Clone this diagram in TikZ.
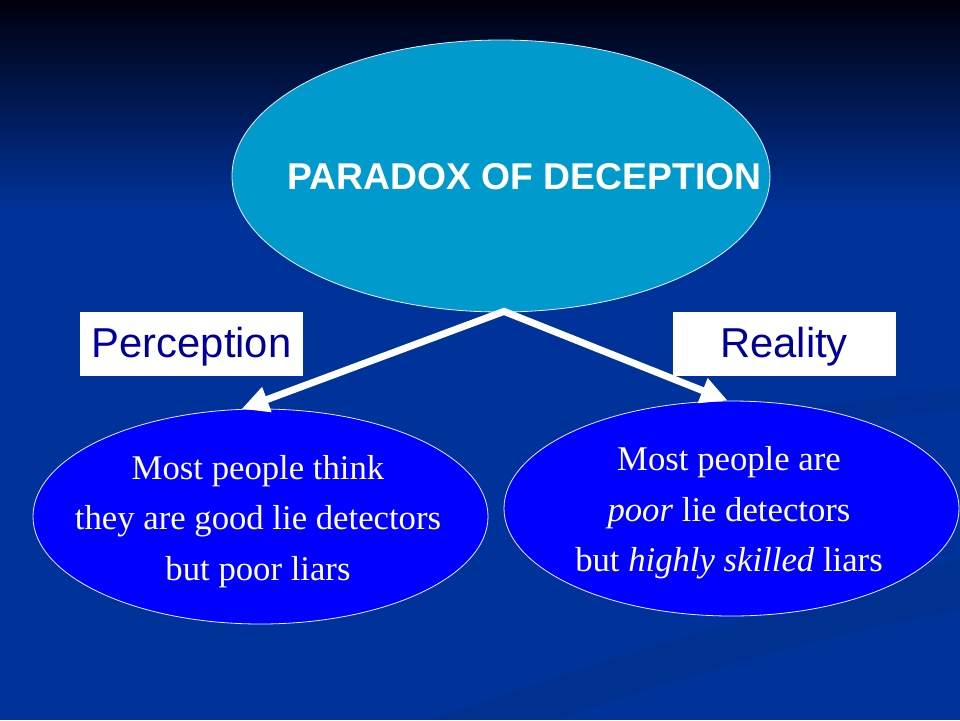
\documentclass[tikz,border=0pt]{standalone}
\usepackage{fontspec}
\setmainfont{Liberation Serif}
\newfontfamily\arialf{Liberation Sans}
\usetikzlibrary{arrows.meta,shapes.geometric}
\definecolor{bgblue}{HTML}{003399}
\definecolor{bgmid}{HTML}{001A55}
\definecolor{topdark}{HTML}{00000E}
\definecolor{cyanfill}{HTML}{009ACC}
\definecolor{bubble}{HTML}{0000FF}
\definecolor{navytext}{HTML}{000099}
\definecolor{edgewhite}{HTML}{E6F0FF}
\begin{document}
\begin{tikzpicture}[x=1pt,y=-1pt,
  bubblestyle/.style={ellipse, fill=bubble, draw=edgewhite, line width=0.8pt,
    inner sep=0pt, minimum width=455pt, minimum height=215pt},
  bubbletext/.style={text=white, align=center, inner sep=0pt,
    font=\fontsize{34.7}{50.5}\selectfont},
  topstyle/.style={ellipse, fill=cyanfill, draw=edgewhite, line width=0.8pt,
    inner sep=0pt, minimum width=538pt, minimum height=272pt},
  titlestyle/.style={text=white, font=\arialf\bfseries\fontsize{37.3}{44}\selectfont},
  labelbox/.style={fill=white, inner sep=0pt, minimum width=223pt, minimum height=64pt,
    text height=26pt, text depth=0pt,
    text=navytext, font=\arialf\fontsize{41.8}{50}\selectfont},
  arrowstyle/.style={draw=white, line width=7pt, line join=miter,
    {Triangle[length=27pt,width=25pt]}-{Triangle[length=27pt,width=25pt]}}
]
\useasboundingbox (0,0) rectangle (960,720);
% background
\fill[bgblue] (0,0) rectangle (960,720);
\shade[top color=topdark, middle color=bgmid, bottom color=bgblue] (0,0) rectangle (960,210);
\fill[topdark] (0,0) rectangle (960,8);
% faint swooshes
\fill[black, opacity=0.06] (430,720) .. controls (600,660) and (800,600) .. (960,560)
  -- (960,610) .. controls (800,640) and (640,690) .. (560,720) -- cycle;
\fill[black, opacity=0.05] (740,420) .. controls (820,405) and (900,395) .. (960,388)
  -- (960,410) .. controls (900,415) and (830,425) .. (780,432) -- cycle;
% nodes
\node[topstyle] (top) at (501,176) {};
\node[titlestyle] (title) at (524.5,177) {PARADOX OF DECEPTION};
\node[bubblestyle] (perc) at (260.5,516.5) {};
\node[bubbletext] (ptext) at (258,521.5) {Most people think\\they are good lie detectors\\but poor liars};
\node[bubblestyle] (real) at (731.5,508.5) {};
\node[bubbletext] (rtext) at (729,513) {Most people are\\\textit{poor} lie detectors\\but \textit{highly skilled} liars};
\node[labelbox] (plabel) at (191.5,344) {Perception};
\node[labelbox] (rlabel) at (784,344) {Reality};
% arrows
\coordinate (apex) at ([xshift=3pt,yshift=1pt]top.south);
\draw[arrowstyle] (perc.100) -- (apex) -- (real.92);
\end{tikzpicture}
\end{document}
